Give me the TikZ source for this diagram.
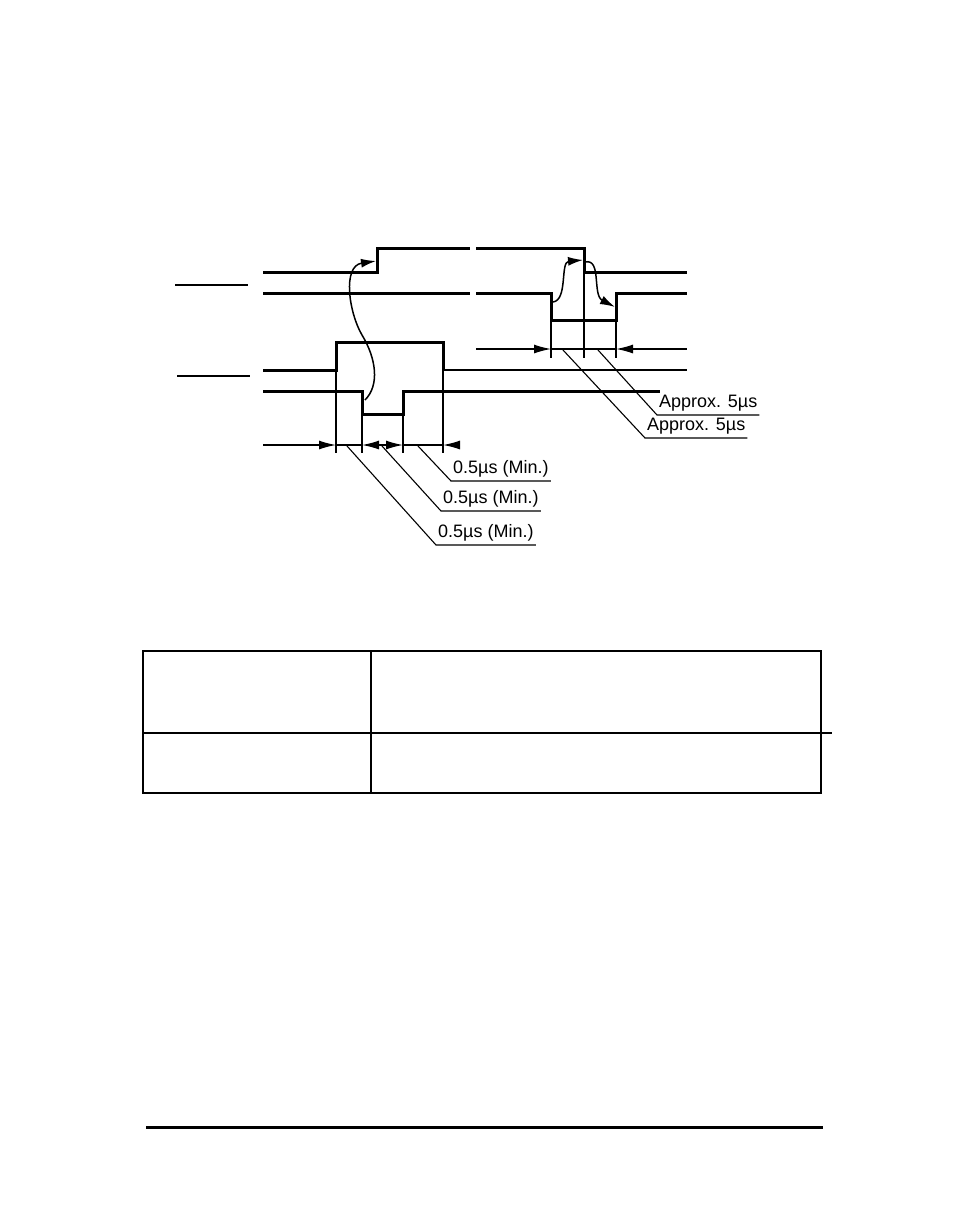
\documentclass[tikz,border=0pt]{standalone}
\usepackage{fontspec}
\setmainfont{Liberation Sans}
\usepackage{tikz}
\usetikzlibrary{arrows.meta}
\tikzstyle{signal} = [line width=3pt, line join=miter]
\tikzstyle{guide} = [line width=1.3pt]
\tikzstyle{leader} = [line width=1.1pt]
\tikzstyle{dim} = [line width=1.3pt, >={Latex[length=17pt,width=9pt]}]
\tikzstyle{cause} = [line width=1.5pt, ->, >={Latex[length=15pt,width=9pt]}]
\tikzstyle{note} = [inner xsep=2pt, inner ysep=4pt, anchor=south west, font=\fontsize{18}{20}\selectfont]
\tikzstyle{frame} = [line width=1.7pt]

\begin{document}
\begin{tikzpicture}[x=1pt, y=-1pt]
		\useasboundingbox (0,0) rectangle (954,1232);
		% signal name lines
		\draw [frame] (175,285) -- (248,285);
		\draw [frame] (177,376) -- (250,376);
		
		% upper pair
		\draw [signal] (263,272) -- (377,272) -- (377,248) -- (470,248);
		\draw [signal] (476,248) -- (584,248) -- (584,272) -- (687,272);
		\draw [signal] (263,293) -- (470,293);
		\draw [signal] (476,293) -- (551,293) -- (551,320) -- (616,320) -- (616,293) -- (687,293);
		
		% lower pair
		\draw [signal] (263,370) -- (336,370) -- (336,342) -- (443,342) -- (443,370);
		\draw [guide] (443,370) -- (687,370);
		\draw [signal] (263,391) -- (362,391) -- (362,414) -- (403,414) -- (403,391) -- (660,391);
		
		% guides
		\foreach \x/\y in {336/370, 362/414, 403/414, 443/370}
			\draw [guide] (\x,\y) -- (\x,453);
		\foreach \x/\y in {551/320, 584/272, 616/320}
			\draw [guide] (\x,\y) -- (\x,358);
		
		% dimension lines
		\draw [dim, ->] (263,445) -- (336,445);
		\draw [dim] (336,445) -- (362,445);
		\draw [dim, <->] (362,445) -- (403,445);
		\draw [dim] (403,445) -- (443,445);
		\draw [dim, <-] (443,445) -- (458,445);
		\draw [dim, ->] (476,349) -- (551,349);
		\draw [dim] (551,349) -- (616,349);
		\draw [dim, <-] (616,349) -- (687,349);
		
		% cause arrows
		\draw [cause] (365,400) .. controls (380,385) and (376,358) .. (362,335)
			.. controls (349,313) and (342,266) .. (376,261);
		\draw [cause] (553,302) .. controls (568,300) and (560,262) .. (583,260);
		\draw [cause] (585,262) .. controls (602,258) and (592,295) .. (615,307);
		
		% labels
		\node [note] (minc) at (451,481) {0.5µs (Min.)};
		\node [note] (minb) at (441,511) {0.5µs (Min.)};
		\node [note] (mina) at (436,545) {0.5µs (Min.)};
		\node [note] (apxb) at (657,415) {Approx. 5µs};
		\node [note] (apxa) at (645,438) {Approx. 5µs};
		\coordinate (pa) at (347,446);
		\coordinate (pb) at (382,446);
		\coordinate (pc) at (418,446);
		\coordinate (qa) at (563,350);
		\coordinate (qb) at (598,350);
		\foreach \p/\n in {pa/mina, pb/minb, pc/minc, qa/apxa, qb/apxb}
			\draw [leader] (\p) -- (\n.south west) -- (\n.south east);
		
		% table
		\draw [frame] (143,651) rectangle (821,793);
		\draw [frame] (143,733) -- (832,733);
		\draw [frame] (371,651) -- (371,793);
		
		% footer
		\draw [line width=3pt] (146,1127) -- (823,1127);
		
		
		\end{tikzpicture}
\end{document}
